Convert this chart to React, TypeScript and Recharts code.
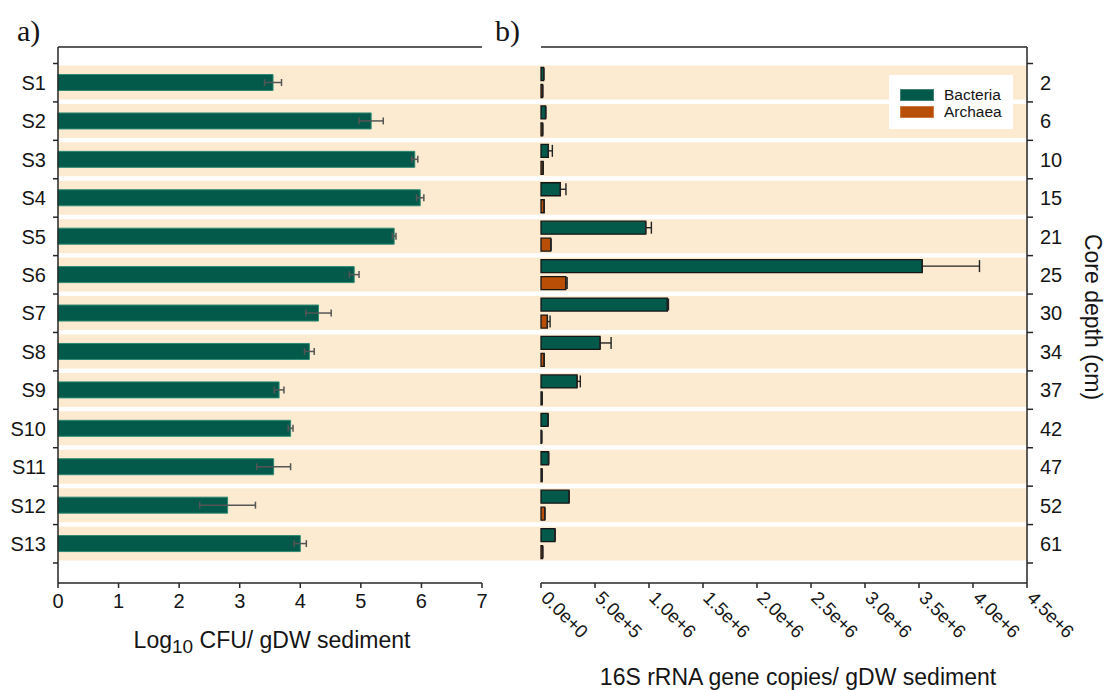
import React from "react";
import { BarChart, Bar, XAxis, YAxis, ErrorBar, Legend } from "recharts";

// rows, top to bottom
const samples = ["S1", "S2", "S3", "S4", "S5", "S6", "S7", "S8", "S9", "S10", "S11", "S12", "S13"];
const depths = ["2", "6", "10", "15", "21", "25", "30", "34", "37", "42", "47", "52", "61"];

// a) Log10 CFU / gDW sediment
const cfu = [3.55, 5.17, 5.89, 5.98, 5.55, 4.89, 4.3, 4.15, 3.65, 3.84, 3.56, 2.8, 4.0];
const cfuErr = [0.14, 0.2, 0.05, 0.06, 0.03, 0.08, 0.21, 0.08, 0.08, 0.04, 0.28, 0.46, 0.1];

// b) 16S rRNA gene copies / gDW sediment
const seriesNames = ["Bacteria", "Archaea"];
const bacteria = [2.5e4, 4.3e4, 6.8e4, 1.79e5, 9.7e5, 3.53e6, 1.17e6, 5.47e5, 3.34e5, 6.5e4, 7.0e4, 2.6e5, 1.3e5];
const bacteriaErr = [0, 0, 3.7e4, 5.2e4, 5.2e4, 5.3e5, 1e4, 1.02e5, 3e4, 0, 0, 0, 0];
const archaea = [1.5e4, 1.5e4, 2e4, 3e4, 9e4, 2.3e5, 5.9e4, 3e4, 1e4, 6e3, 1e4, 3.5e4, 1.5e4];
const archaeaErr = [0, 0, 0, 0, 3e3, 1.2e4, 2.5e4, 0, 0, 0, 0, 0, 0];

const cfuTicks = [0, 1, 2, 3, 4, 5, 6, 7];
const copyTicks = [0, 5e5, 1e6, 1.5e6, 2e6, 2.5e6, 3e6, 3.5e6, 4e6, 4.5e6];

// each row gets a full-width band in the background layer
const stripeRows = samples.map((sample) => ({ sample, band: 1 }));
const rowsA = samples.map((sample, i) => ({ sample, cfu: cfu[i], cfuErr: cfuErr[i] }));
const rowsB = depths.map((depth, i) => ({
  depth,
  bacteria: bacteria[i],
  bacteriaErr: [0, bacteriaErr[i]],
  archaea: archaea[i],
  archaeaErr: [0, archaeaErr[i]]
}));

const W = 1107;
const H = 690;
const PLOT_TOP = 47;
const PLOT_BOTTOM = 583;
const PAD = { top: 16.5, bottom: 20 };
const BAND = (PLOT_BOTTOM - PLOT_TOP - PAD.top - PAD.bottom) / samples.length;
const X_AXIS_H = 40;
const TICK = 5;
const GAP = 7;

const SANS = "'Liberation Sans', Arial, sans-serif";
const SERIF = "'Liberation Serif', 'Times New Roman', serif";
const INK = "#151515";
const AXIS = "#262626";
const GREEN = "#03594a";
const GREEN_EDGE = "#2f8a73";
const ORANGE = "#b94f06";
const BEIGE = "#fcebd1";

const axisLine = { stroke: AXIS, strokeWidth: 1.5 };

const layer: React.CSSProperties = { position: "absolute", left: 0, top: 0 };

const SampleTick = (props: any) => {
  const { x, y, payload, index } = props;
  const axisX = x + GAP + TICK;
  const half = BAND / 2;
  return (
    <g>
      <line x1={axisX - TICK} x2={axisX} y1={y - half} y2={y - half} stroke={AXIS} strokeWidth={1.5} />
      {index === samples.length - 1 && (
        <line x1={axisX - TICK} x2={axisX} y1={y + half} y2={y + half} stroke={AXIS} strokeWidth={1.5} />
      )}
      <text x={x} y={y} dy="0.36em" textAnchor="end" fontSize={20} fill={INK} fontFamily={SANS}>
        {payload.value}
      </text>
    </g>
  );
};

const DepthTick = (props: any) => {
  const { x, y, payload, index } = props;
  const axisX = x - GAP - 6;
  const half = BAND / 2;
  return (
    <g>
      <line x1={axisX} x2={axisX + 6} y1={y - half} y2={y - half} stroke={AXIS} strokeWidth={1.5} />
      {index === depths.length - 1 && (
        <line x1={axisX} x2={axisX + 6} y1={y + half} y2={y + half} stroke={AXIS} strokeWidth={1.5} />
      )}
      <text x={x} y={y} dy="0.36em" textAnchor="start" fontSize={20} fill={INK} fontFamily={SANS}>
        {payload.value}
      </text>
    </g>
  );
};

const CopyTick = (props: any) => {
  const { x, y, payload } = props;
  return (
    <text
      transform={`translate(${x - 1},${y + 11}) rotate(45)`}
      textAnchor="start"
      fontSize={18.5}
      fill={INK}
      fontFamily={SANS}
    >
      {Number(payload.value).toExponential(1)}
    </text>
  );
};

const LegendBox = (props: any) => {
  const items = [...(props.payload || [])].sort(
    (a: any, b: any) => seriesNames.indexOf(a.value) - seriesNames.indexOf(b.value)
  );
  return (
    <div style={{ background: "#fff", padding: "11px 8px 9px 11px", fontFamily: SANS, fontSize: 15.5, color: INK, lineHeight: "17px" }}>
      {items.map((entry: any) => (
        <div key={entry.value} style={{ display: "flex", alignItems: "center", height: 17 }}>
          <span
            style={{
              display: "inline-block",
              width: 32,
              height: 10,
              marginRight: 10,
              background: entry.payload?.fill ?? entry.color,
              border: "1px solid rgba(255,255,255,0.25)"
            }}
          />
          {entry.value}
        </div>
      ))}
    </div>
  );
};

export default function App() {
  return (
    <div style={{ position: "absolute", left: 0, top: 0, width: W, height: H, background: "#fff", overflow: "hidden", fontFamily: SANS }}>
      {/* beige row bands running under both panels */}
      <div style={layer}>
        <BarChart
          width={W}
          height={H}
          data={stripeRows}
          layout="vertical"
          margin={{ top: PLOT_TOP, bottom: H - PLOT_BOTTOM, left: 58, right: W - 1027 }}
        >
          <XAxis type="number" domain={[0, 1]} hide />
          <YAxis type="category" dataKey="sample" hide padding={PAD} />
          <Bar dataKey="band" barSize={34} fill={BEIGE} isAnimationActive={false} />
        </BarChart>
      </div>

      {/* a) culturable counts */}
      <div style={layer}>
        <BarChart
          width={W}
          height={H}
          data={rowsA}
          layout="vertical"
          margin={{ top: PLOT_TOP - 1, bottom: H - PLOT_BOTTOM - X_AXIS_H, left: 8, right: W - 482 }}
        >
          <XAxis
            xAxisId="top"
            orientation="top"
            type="number"
            domain={[0, 7]}
            height={1}
            tick={false}
            tickLine={false}
            axisLine={axisLine}
          />
          <XAxis
            type="number"
            domain={[0, 7]}
            ticks={cfuTicks}
            interval={0}
            height={X_AXIS_H}
            tickSize={TICK}
            tickMargin={6}
            tick={{ fontSize: 20, fill: INK }}
            axisLine={axisLine}
            tickLine={axisLine}
          />
          <YAxis
            type="category"
            dataKey="sample"
            width={50}
            padding={PAD}
            interval={0}
            tickSize={TICK}
            tickMargin={GAP}
            tickLine={false}
            axisLine={axisLine}
            tick={SampleTick}
          />
          <Bar dataKey="cfu" barSize={16} fill={GREEN} stroke={GREEN_EDGE} strokeWidth={1} isAnimationActive={false}>
            <ErrorBar dataKey="cfuErr" direction="x" width={3.5} stroke="#555" strokeWidth={1.5} isAnimationActive={false} />
          </Bar>
        </BarChart>
      </div>

      {/* b) qPCR gene copies */}
      <div style={layer}>
        <BarChart
          width={W}
          height={H}
          data={rowsB}
          layout="vertical"
          barGap={4}
          margin={{ top: PLOT_TOP - 1, bottom: H - PLOT_BOTTOM - X_AXIS_H, left: 541 - 6, right: W - 1027 - 60 }}
        >
          <XAxis
            xAxisId="top"
            orientation="top"
            type="number"
            domain={[0, 4.5e6]}
            height={1}
            tick={false}
            tickLine={false}
            axisLine={axisLine}
          />
          <XAxis
            type="number"
            domain={[0, 4.5e6]}
            ticks={copyTicks}
            interval={0}
            height={X_AXIS_H}
            tickSize={TICK}
            tickMargin={0}
            tick={CopyTick}
            axisLine={axisLine}
            tickLine={axisLine}
          />
          <YAxis
            yAxisId="marks"
            type="category"
            dataKey="depth"
            orientation="left"
            width={6}
            padding={PAD}
            interval={0}
            tickSize={6}
            tick={false}
            axisLine={false}
            tickLine={axisLine}
          />
          <YAxis
            yAxisId="depth"
            type="category"
            dataKey="depth"
            orientation="right"
            width={60}
            padding={PAD}
            interval={0}
            tickSize={6}
            tickMargin={GAP}
            tickLine={false}
            axisLine={axisLine}
            tick={DepthTick}
          />
          <Legend
            layout="vertical"
            align="center"
            verticalAlign="middle"
            wrapperStyle={{ left: 889, top: 75, width: 124 }}
            content={LegendBox}
          />
          <Bar yAxisId="depth" dataKey="bacteria" name="Bacteria" barSize={13} fill={GREEN} stroke="#161616" strokeWidth={1.3} isAnimationActive={false}>
            <ErrorBar dataKey="bacteriaErr" direction="x" width={6} stroke="#222" strokeWidth={1.4} isAnimationActive={false} />
          </Bar>
          <Bar yAxisId="depth" dataKey="archaea" name="Archaea" barSize={13} fill={ORANGE} stroke="#161616" strokeWidth={1.3} isAnimationActive={false}>
            <ErrorBar dataKey="archaeaErr" direction="x" width={6} stroke="#222" strokeWidth={1.4} isAnimationActive={false} />
          </Bar>
        </BarChart>
      </div>

      {/* panel letters and axis titles */}
      <svg width={W} height={H} style={{ ...layer, pointerEvents: "none" }}>
        <text x={17} y={41} fontFamily={SERIF} fontSize={30} fill={INK}>
          a)
        </text>
        <text x={495} y={41} fontFamily={SERIF} fontSize={30} fill={INK}>
          b)
        </text>
        <text x={272} y={648} textAnchor="middle" fontFamily={SANS} fontSize={23} fill={INK}>
          Log
          <tspan fontSize={19} dy={5}>
            10
          </tspan>
          <tspan dy={-5}>{" CFU/ gDW sediment"}</tspan>
        </text>
        <text x={798} y={685} textAnchor="middle" fontFamily={SANS} fontSize={23} fill={INK}>
          16S rRNA gene copies/ gDW sediment
        </text>
        <text transform="translate(1085,317) rotate(90)" textAnchor="middle" fontFamily={SANS} fontSize={23} fill={INK}>
          Core depth (cm)
        </text>
      </svg>
    </div>
  );
}
